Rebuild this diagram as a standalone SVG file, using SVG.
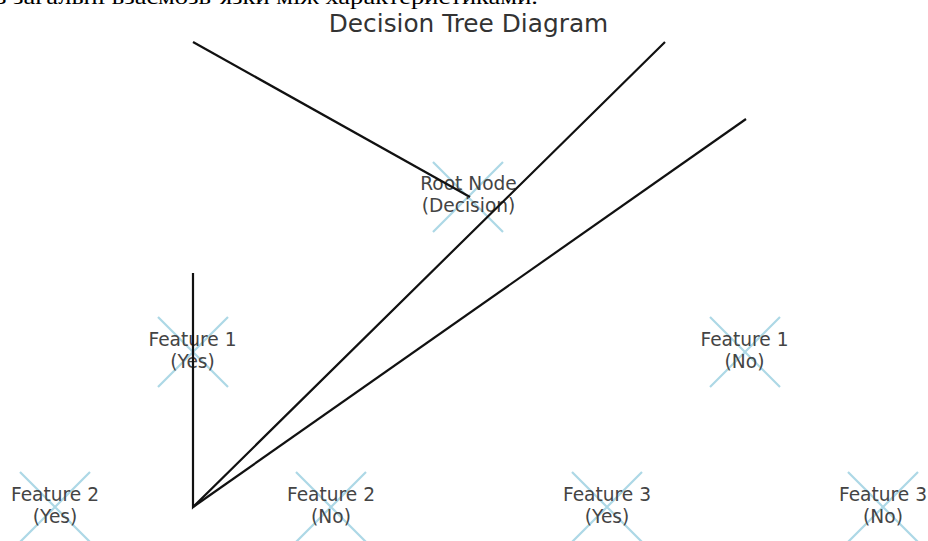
<svg xmlns="http://www.w3.org/2000/svg" width="928" height="541" viewBox="0 0 928 541">
<style>
.lbl{font-family:"DejaVu Sans",sans-serif;font-size:18.6px;fill:#444;text-anchor:middle}
.mk{stroke:#add8e6;stroke-width:2.2;fill:none}
.edge{stroke:#111;stroke-width:2.2;fill:none;stroke-linecap:butt}
</style>
<defs>
<g id="x"><path class="mk" d="M-35,-35L35,35M35,-35L-35,35"/></g>
</defs>
<rect width="928" height="541" fill="#fff"/>
<text x="-4" y="4" font-family="Liberation Serif,serif" font-size="22" fill="#000" textLength="542" lengthAdjust="spacingAndGlyphs">з загальні взаємозв’язки між характеристиками.</text>
<text x="468.5" y="32" font-family="DejaVu Sans,sans-serif" font-size="24.8" fill="#333" text-anchor="middle">Decision Tree Diagram</text>
<g id="root"><use href="#x" x="468" y="197"/><text class="lbl" x="468.5" y="190">Root Node</text><text class="lbl" x="468.5" y="212">(Decision)</text></g>
<g id="f1yes"><use href="#x" x="193" y="352"/><text class="lbl" x="192.5" y="346">Feature 1</text><text class="lbl" x="192.5" y="368">(Yes)</text></g>
<g id="f1no"><use href="#x" x="745" y="352"/><text class="lbl" x="744.5" y="346">Feature 1</text><text class="lbl" x="744.5" y="368">(No)</text></g>
<g id="f2yes"><use href="#x" x="55" y="507"/><text class="lbl" x="55" y="501">Feature 2</text><text class="lbl" x="55" y="523">(Yes)</text></g>
<g id="f2no"><use href="#x" x="331" y="507"/><text class="lbl" x="331" y="501">Feature 2</text><text class="lbl" x="331" y="523">(No)</text></g>
<g id="f3yes"><use href="#x" x="607" y="507"/><text class="lbl" x="607" y="501">Feature 3</text><text class="lbl" x="607" y="523">(Yes)</text></g>
<g id="f3no"><use href="#x" x="883" y="507"/><text class="lbl" x="883" y="501">Feature 3</text><text class="lbl" x="883" y="523">(No)</text></g>
<g id="connectors">
<path class="edge" d="M193,42L470,197"/>
<path class="edge" d="M193,273L193,507L665,42"/>
<path class="edge" d="M193,507L746,119"/>
</g>
</svg>
